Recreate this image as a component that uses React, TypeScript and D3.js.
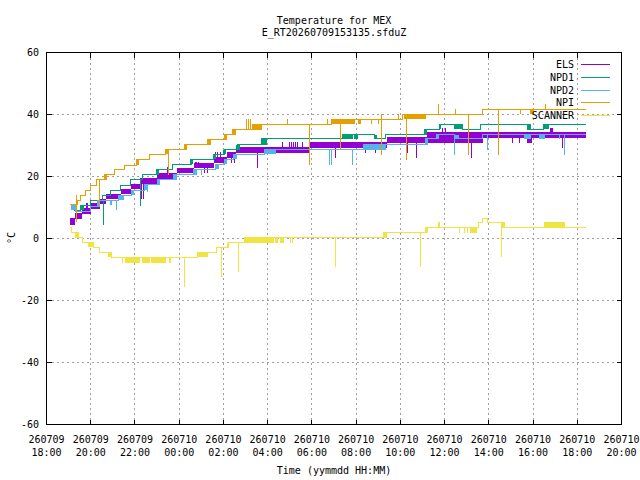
import React from "react";
import * as d3 from "d3";

// time in hours since 260709 18:00, values in °C
const END = 24.4;
const X_TICK_DATES = ["260709", "260709", "260709", "260710", "260710", "260710", "260710", "260710", "260710", "260710", "260710", "260710", "260710", "260710"];
const X_TICK_TIMES = ["18:00", "20:00", "22:00", "00:00", "02:00", "04:00", "06:00", "08:00", "10:00", "12:00", "14:00", "16:00", "18:00", "20:00"];
const Y_TICKS = [-60, -40, -20, 0, 20, 40, 60];

const SERIES_NAMES = ["ELS", "NPD1", "NPD2", "NPI", "SCANNER"];
const SERIES_COLORS = ["#9400D3", "#009E73", "#56B4E9", "#E69F00", "#F0E442"];

// ELS: oscillating between neighbouring levels -> bands [t0, t1, lo, hi]
const ELS_STEPS: [number, number][] = [];
const ELS_BANDS = [
  [1.085, 1.31, 4.3, 6.6], [1.31, 1.61, 6.2, 8.3], [1.61, 1.99, 7.8, 9.7], [1.99, 2.44, 9.5, 11.3],
  [2.44, 2.67, 11.1, 12.9], [2.67, 3.35, 12.6, 14.5], [3.35, 3.8, 14.3, 16.1], [3.8, 4.25, 15.9, 17.7],
  [4.25, 5.0, 17.5, 19.4], [5.0, 5.91, 19.1, 21.0], [5.91, 6.66, 21.0, 22.9], [6.66, 7.56, 22.6, 24.5],
  [7.56, 8.17, 24.2, 26.3], [8.17, 8.56, 26.0, 27.9], [8.56, 11.93, 27.6, 29.4], [11.93, 15.4, 29.2, 31.0],
  [15.4, 17.21, 30.8, 32.6], [17.21, 19.74, 30.8, 34.2], [19.74, 24.4, 32.5, 34.2], [21.73, 21.96, 30.8, 32.5],
  [22.78, 22.91, 34.2, 35.8],
];
const ELS_SPIKES = [
  [1.83, 9.7, 11.3], [1.87, 9.7, 11.3], [4.3, 17.5, 12.9], [4.4, 17.5, 12.9], [5.48, 21.0, 23.1],
  [6.72, 22.9, 24.7], [6.8, 22.9, 24.7], [6.88, 22.9, 24.7], [7.15, 22.6, 21.0], [7.26, 22.6, 21.0],
  [7.65, 26.3, 28.0], [7.75, 26.3, 28.0], [7.85, 26.3, 28.0], [8.36, 26.0, 24.5], [8.48, 26.0, 24.5],
  [9.55, 27.6, 22.8], [10.68, 29.4, 31.2], [11.0, 29.4, 31.2], [11.08, 29.4, 31.2], [11.15, 29.4, 31.2],
  [11.26, 29.4, 31.2], [11.33, 29.4, 31.2], [11.56, 29.4, 31.2], [13.07, 29.2, 26.0], [14.42, 29.2, 27.6],
  [14.87, 29.2, 27.6], [16.33, 30.8, 27.6], [16.71, 30.8, 26.0], [17.92, 34.2, 35.8], [18.04, 34.2, 35.8],
  [19.21, 30.8, 26.1], [21.05, 32.5, 30.8], [21.39, 32.5, 30.8], [23.34, 32.5, 29.2],
];

const NPD1_STEPS: [number, number][] = [
  [1.23, 9.1], [1.54, 10.7], [1.99, 12.1], [2.55, 13.8], [2.89, 15.4], [3.35, 17.0], [3.8, 18.9],
  [4.34, 20.6], [4.96, 22.3], [5.68, 23.9], [6.56, 25.5], [7.56, 27.1], [8.05, 28.7], [8.62, 30.3],
  [9.72, 32.1], [13.39, 33.5], [14.83, 32.1], [15.33, 33.5], [17.1, 35.2], [17.78, 36.8], [18.79, 35.2],
  [19.62, 36.8], [21.76, 35.2], [22.48, 36.8],
];
const NPD1_BANDS = [
  [1.54, 1.69, 9.1, 10.7], [4.93, 5.08, 20.6, 22.3], [6.48, 6.63, 23.9, 25.5], [7.52, 7.67, 25.5, 27.1],
  [7.99, 8.12, 27.1, 28.7], [8.59, 8.73, 28.7, 30.3], [9.72, 9.98, 30.3, 32.1], [13.39, 13.87, 32.1, 33.5],
  [13.92, 14.07, 32.1, 33.5], [14.83, 14.95, 32.1, 33.5], [17.1, 17.21, 33.5, 35.2], [17.78, 17.86, 35.2, 36.8],
  [18.44, 18.79, 35.2, 36.8], [21.76, 21.91, 35.2, 36.8], [22.48, 22.74, 35.2, 36.8],
];
const NPD1_SPIKES = [[1.23, 10.7, 9.1], [2.57, 12.1, 4.3], [4.25, 18.9, 10.4]];

const NPD2_STEPS: [number, number][] = [
  [1.04, 11.0], [1.31, 8.6], [1.99, 10.2], [2.29, 12.4], [3.27, 14.0], [3.84, 15.6], [4.44, 17.4],
  [5.0, 19.0], [5.73, 20.6], [6.63, 22.3], [7.64, 23.9], [8.05, 25.5], [8.47, 27.1], [9.86, 28.7],
  [14.34, 30.3], [17.13, 32.1], [17.63, 33.5], [18.46, 32.1], [19.7, 33.5],
];
const NPD2_BANDS = [
  [1.1, 1.3, 9.1, 11.0], [2.29, 2.44, 10.2, 12.4], [2.86, 2.94, 10.7, 12.4], [3.27, 3.49, 12.4, 14.0],
  [3.84, 3.95, 14.0, 15.6], [4.44, 4.55, 15.6, 17.4], [5.0, 5.15, 17.4, 19.0], [5.73, 5.91, 19.0, 20.6],
  [6.63, 6.81, 20.6, 22.3], [7.64, 7.79, 22.3, 23.9], [8.05, 8.17, 23.9, 25.5], [8.47, 8.62, 25.5, 27.1],
  [9.86, 10.38, 27.1, 28.7], [14.34, 15.36, 28.7, 30.3], [17.13, 17.26, 30.3, 32.1], [17.63, 17.76, 32.1, 33.5],
  [18.46, 18.64, 32.1, 33.5], [21.61, 21.91, 32.1, 33.5], [22.29, 22.56, 32.1, 33.5],
];
const NPD2_SPIKES = [
  [3.17, 12.4, 9.1], [4.58, 17.4, 15.0], [6.99, 22.3, 20.6], [12.81, 28.7, 23.6], [12.87, 28.7, 23.6],
  [13.85, 28.7, 23.6], [18.46, 33.5, 26.9], [19.95, 33.5, 28.7], [23.19, 33.5, 32.1], [23.43, 33.5, 26.9],
];

const NPI_STEPS: [number, number][] = [
  [1.04, 11.0], [1.39, 12.4], [1.54, 14.0], [1.76, 15.6], [1.99, 17.2], [2.26, 18.9], [2.64, 20.6],
  [3.09, 22.2], [3.53, 23.7], [4.07, 25.5], [4.67, 27.1], [5.38, 28.7], [6.25, 30.3], [7.29, 31.9],
  [8.05, 33.5], [8.42, 35.2], [9.72, 36.8], [12.88, 38.4], [16.11, 40.1], [19.7, 41.7],
];
const NPI_BANDS = [
  [2.64, 2.75, 18.9, 20.6], [4.07, 4.17, 23.7, 25.5], [5.38, 5.55, 27.1, 28.7], [6.25, 6.35, 28.7, 30.3],
  [7.29, 7.44, 30.3, 31.9], [8.05, 8.17, 31.9, 33.5], [8.41, 8.59, 33.5, 35.2], [9.31, 9.72, 35.2, 36.8],
  [12.88, 13.97, 36.8, 38.4], [14.1, 14.23, 36.8, 38.4], [16.15, 17.18, 38.4, 40.1], [21.84, 22.03, 40.1, 41.7],
];
const NPI_SPIKES = [
  [1.36, 11.0, 5.4], [1.36, 11.0, 14.0], [2.41, 18.9, 10.7], [5.53, 28.7, 20.4], [9.04, 35.2, 38.4],
  [9.13, 35.2, 38.4], [9.22, 35.2, 38.4], [10.88, 36.8, 38.4], [11.9, 36.8, 23.6], [12.72, 36.8, 38.4],
  [13.3, 38.4, 28.7], [14.68, 38.4, 36.8], [15.02, 38.4, 36.8], [15.13, 38.4, 40.1], [15.13, 38.4, 26.9],
  [15.93, 38.4, 40.1], [16.26, 40.1, 25.3], [17.74, 40.1, 43.3], [18.5, 40.1, 41.7], [19.09, 40.1, 26.9],
  [20.45, 41.7, 26.9], [21.43, 41.7, 40.1], [22.56, 41.7, 43.3],
];

const SCANNER_STEPS: [number, number][] = [
  [1.05, 3.6], [1.14, 1.9], [1.43, 0.3], [1.64, -1.3], [2.11, -2.9], [2.4, -4.5], [2.94, -6.1],
  [6.81, -4.5], [7.69, -2.9], [8.21, -1.3], [8.95, 0.3], [15.25, 1.9], [17.13, 3.6], [19.54, 5.2],
  [19.72, 6.6], [19.95, 5.2], [20.58, 3.6],
];
const SCANNER_BANDS = [
  [1.31, 1.43, 0.3, 1.9], [1.89, 2.11, -2.9, -1.3], [2.76, 2.94, -6.1, -4.5], [3.57, 4.25, -7.9, -6.1],
  [4.34, 4.57, -7.9, -6.1], [4.61, 4.7, -7.9, -6.1], [4.73, 4.84, -7.9, -6.1], [4.88, 5.42, -7.9, -6.1],
  [6.81, 7.26, -6.1, -4.5], [8.14, 8.21, -2.9, -1.3], [8.95, 10.28, -1.3, 0.3], [10.35, 10.49, -1.3, 0.3],
  [10.58, 10.72, -1.3, 0.3], [15.25, 15.4, 0.3, 1.9], [17.13, 17.26, 1.9, 3.6], [17.68, 17.8, 3.6, 5.2],
  [19.14, 19.47, 1.9, 3.6], [20.58, 20.74, 3.6, 5.2], [22.51, 23.46, 3.6, 5.2],
];
const SCANNER_SPIKES = [
  [3.44, -6.1, -7.9], [5.55, -6.1, -7.9], [5.61, -6.1, -7.9], [6.25, -6.1, -15.6], [7.29, -4.5, -6.1],
  [7.93, -2.9, -12.4], [8.69, -1.3, -10.8], [11.03, 0.3, -1.3], [11.12, 0.3, -1.3], [13.08, 0.3, -9.2],
  [16.92, 1.9, -9.2], [18.68, 3.6, 1.9], [18.91, 3.6, 1.9], [19.05, 3.6, 1.9], [20.58, 5.2, -6.1],
];

const SERIES_STEPS = [ELS_STEPS, NPD1_STEPS, NPD2_STEPS, NPI_STEPS, SCANNER_STEPS];
const SERIES_BANDS = [ELS_BANDS, NPD1_BANDS, NPD2_BANDS, NPI_BANDS, SCANNER_BANDS];
const SERIES_SPIKES = [ELS_SPIKES, NPD1_SPIKES, NPD2_SPIKES, NPI_SPIKES, SCANNER_SPIKES];

const W = 640, H = 480;
const M = { left: 46.5, right: 621.5, top: 52.5, bottom: 424.5 };
const FONT = "'DejaVu Sans Mono', monospace";

export default function App() {
  const x = d3.scaleLinear().domain([0, 26]).range([M.left, M.right]);
  const y = d3.scaleLinear().domain([-60, 60]).range([M.bottom, M.top]);
  const xTicks = d3.range(0, 27, 2);
  const line = d3
    .line<[number, number]>()
    .x((d) => x(d[0]))
    .y((d) => y(d[1]))
    .curve(d3.curveStepAfter);
  const tick = 5;

  return (
    <svg
      width={W}
      height={H}
      style={{ position: "absolute", left: 0, top: 0, background: "#fff" }}
      fontFamily={FONT}
      fontSize={10}
    >
      <rect x={0} y={0} width={W} height={H} fill="#fff" />
      {/* grid */}
      <g stroke="#a0a0a0" strokeWidth={1} strokeDasharray="2,3" shapeRendering="crispEdges">
        {xTicks.slice(1, -1).map((t) => (
          <line key={"gx" + t} x1={x(t)} x2={x(t)} y1={M.top} y2={M.bottom} />
        ))}
        {Y_TICKS.slice(1, -1).map((v) => (
          <line key={"gy" + v} x1={M.left} x2={M.right} y1={y(v)} y2={y(v)} />
        ))}
      </g>
      {/* series */}
      {SERIES_NAMES.map((name, i) => {
        const color = SERIES_COLORS[i];
        const steps = SERIES_STEPS[i];
        const pts: [number, number][] = steps.length ? [...steps, [END, steps[steps.length - 1][1]]] : [];
        return (
          <g key={name}>
            {SERIES_BANDS[i].map((b, j) => (
              <rect
                key={j}
                x={x(b[0])}
                width={x(b[1]) - x(b[0])}
                y={y(b[3])}
                height={y(b[2]) - y(b[3])}
                fill={color}
                shapeRendering="crispEdges"
              />
            ))}
            {pts.length > 0 && (
              <path d={line(pts) || ""} fill="none" stroke={color} strokeWidth={1} shapeRendering="crispEdges" />
            )}
            {SERIES_SPIKES[i].map((s, j) => (
              <line
                key={"s" + j}
                x1={x(s[0])}
                x2={x(s[0])}
                y1={y(s[1])}
                y2={y(s[2])}
                stroke={color}
                strokeWidth={1}
                shapeRendering="crispEdges"
              />
            ))}
          </g>
        );
      })}
      {/* frame & ticks */}
      <g stroke="#000" strokeWidth={1} shapeRendering="crispEdges">
        <rect x={M.left} y={M.top} width={M.right - M.left} height={M.bottom - M.top} fill="none" />
        {xTicks.map((t) => (
          <g key={"tx" + t}>
            <line x1={x(t)} x2={x(t)} y1={M.bottom} y2={M.bottom - tick} />
            <line x1={x(t)} x2={x(t)} y1={M.top} y2={M.top + tick} />
          </g>
        ))}
        {Y_TICKS.map((v) => (
          <g key={"ty" + v}>
            <line x1={M.left} x2={M.left + tick} y1={y(v)} y2={y(v)} />
            <line x1={M.right} x2={M.right - tick} y1={y(v)} y2={y(v)} />
          </g>
        ))}
      </g>
      {/* tick labels */}
      <g fill="#000">
        {Y_TICKS.map((v) => (
          <text key={"ly" + v} x={39} y={y(v)} textAnchor="end" dominantBaseline="middle">
            {v}
          </text>
        ))}
        {xTicks.map((t, k) => (
          <g key={"lx" + t}>
            <text x={x(t)} y={440} textAnchor="middle" dominantBaseline="middle">
              {X_TICK_DATES[k]}
            </text>
            <text x={x(t)} y={453} textAnchor="middle" dominantBaseline="middle">
              {X_TICK_TIMES[k]}
            </text>
          </g>
        ))}
        <text x={334} y={471} textAnchor="middle" dominantBaseline="middle">
          Time (yymmdd HH:MM)
        </text>
        <text transform="translate(12,238) rotate(-90)" textAnchor="middle" dominantBaseline="middle">
          °C
        </text>
        <text x={334} y={21} textAnchor="middle" dominantBaseline="middle">
          Temperature for MEX
        </text>
        <text x={334} y={33} textAnchor="middle" dominantBaseline="middle">
          E_RT20260709153135.sfduZ
        </text>
      </g>
      {/* legend */}
      <g>
        {SERIES_NAMES.map((name, i) => {
          const ly = Math.round(64 + i * 12.8) + 0.5;
          return (
            <g key={"lg" + name}>
              <text x={574} y={ly} textAnchor="end" dominantBaseline="middle" fill="#000">
                {name}
              </text>
              <line x1={581} x2={610} y1={ly} y2={ly} stroke={SERIES_COLORS[i]} strokeWidth={1} shapeRendering="crispEdges" />
            </g>
          );
        })}
      </g>
    </svg>
  );
}
